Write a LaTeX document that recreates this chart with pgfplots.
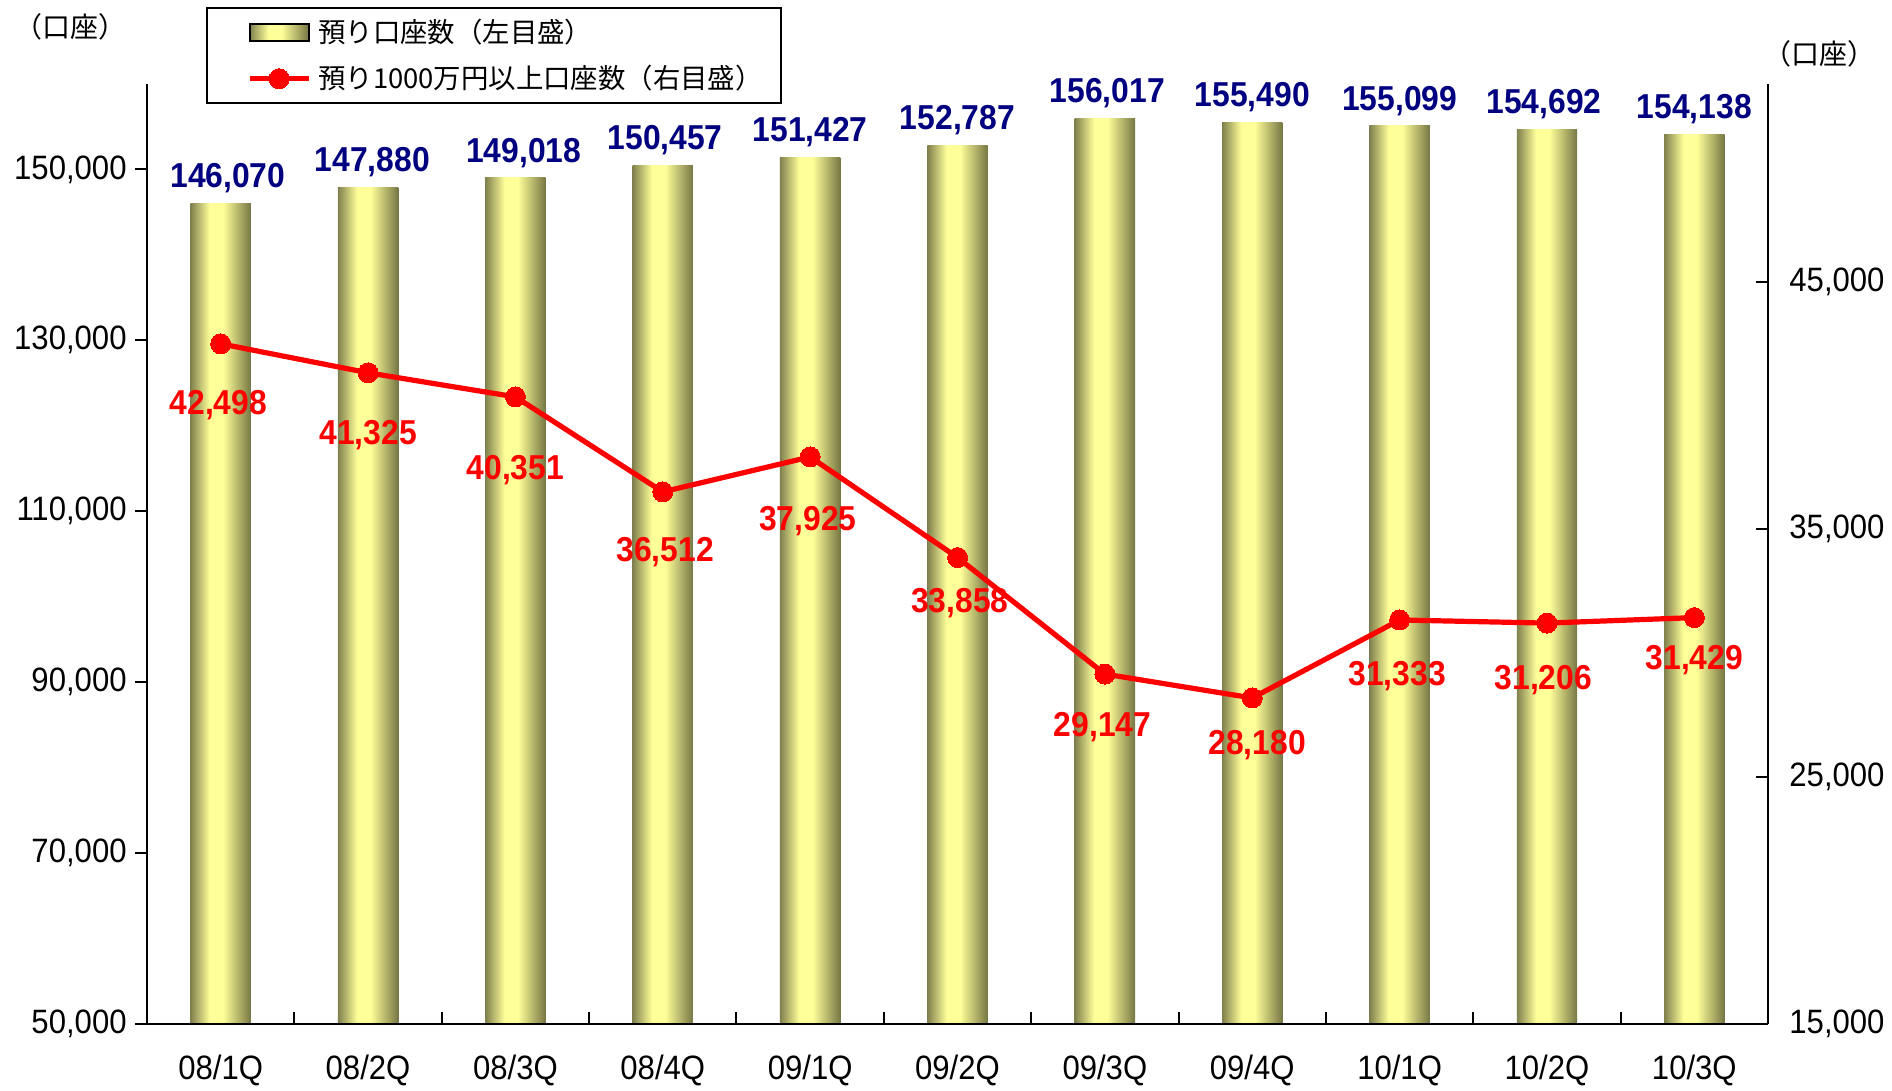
\documentclass[border=0pt]{standalone}
\usepackage{fontspec}
\setmainfont[FakeStretch=0.92]{Liberation Sans}
\newfontfamily\cjk{Noto Sans CJK JP}
\newfontfamily\cjkh[RawFeature=+halt]{Noto Sans CJK JP}
\usepackage{pgfplots}
\pgfplotsset{compat=1.18}
\usepackage{pgfplotstable}
\definecolor{barEdge}{RGB}{128,128,78}
\definecolor{barEdgeR}{RGB}{118,118,68}
\definecolor{barMid}{RGB}{255,255,153}
\definecolor{navyLbl}{RGB}{0,0,128}
\pgfdeclarehorizontalshading{barshade}{100bp}{color(0bp)=(barEdge); color(25bp)=(barEdge); color(41bp)=(barMid); color(52bp)=(barMid); color(75bp)=(barEdgeR); color(100bp)=(barEdgeR)}
\pgfkeys{/pgf/number format/.cd, fixed, precision=0, 1000 sep={,}, assume math mode=true}
\pgfplotsset{
  lineleg/.style={legend image code/.code={\path (-11bp,0bp); \draw[mark repeat=2, mark phase=2, ##1] plot coordinates {(0bp,0bp) (14.75bp,0bp) (29.5bp,0bp)};}},
  barleg/.style={legend image code/.code={\path (-11bp,0bp); \path[shading=barshade] (0bp,-4.25bp) rectangle (29.5bp,4.25bp);}},
  barsty/.style={ybar, bar width=0.41, bar shift=0pt, draw=none, shading=barshade}
}

\pgfplotstableread{
x y xo
0 146070 3.6
1 147880 2.1
2 149018 4.2
3 150457 1.2
4 151427 0
5 152787 0
6 156017 1.2
7 155490 0
8 155099 0
9 154692 -1.5
10 154138 0
}\bardata

\pgfplotstableread{
x y off xo
0 42498 35.2 -1.2
1 41325 35.8 0
2 40351 41.2 0
3 36512 34.6 1.2
4 37925 37.0 -1.2
5 33858 27.3 1.2
6 29147 31.0 -1.2
7 28180 28.5 2.4
8 31333 32.8 -1.2
9 31206 33.3 -1.8
10 31429 26.1 0
}\rightdata

\begin{document}
\begin{tikzpicture}
\useasboundingbox (0,0) rectangle (946bp,545.5bp);
\begin{axis}[
  at={(73.5bp,33.5bp)}, anchor=south west,
  scale only axis, width=810.5bp, height=470bp,
  xmin=-0.5, xmax=10.5, ymin=50000, ymax=160000,
  axis x line*=bottom, axis y line*=left,
  axis line style={line width=1bp, black},
  xtick={0,...,10},
  xticklabels={08/1Q,08/2Q,08/3Q,08/4Q,09/1Q,09/2Q,09/3Q,09/4Q,10/1Q,10/2Q,10/3Q},
  xtick style={draw=none},
  ytick={50000,70000,90000,110000,130000,150000},
  tick align=outside, major tick length=6bp,
  ytick style={line width=1bp, black},
  scaled y ticks=false,
  tick label style={font=\fontsize{16.9bp}{20bp}\selectfont},
  xticklabel style={anchor=north, inner sep=0pt, yshift=-9.3bp},
  yticklabel style={anchor=east, inner sep=0pt, xshift=-4bp},
  clip mode=individual,
]
\addplot[barsty] coordinates {(0,146070)};
\addplot[barsty] coordinates {(1,147880)};
\addplot[barsty] coordinates {(2,149018)};
\addplot[barsty] coordinates {(3,150457)};
\addplot[barsty] coordinates {(4,151427)};
\addplot[barsty] coordinates {(5,152787)};
\addplot[barsty] coordinates {(6,156017)};
\addplot[barsty] coordinates {(7,155490)};
\addplot[barsty] coordinates {(8,155099)};
\addplot[barsty] coordinates {(9,154692)};
\addplot[barsty] coordinates {(10,154138)};
\addplot[draw=none, nodes near coords,
  visualization depends on={\thisrow{xo} \as \mybxo},
  nodes near coords style={font=\bfseries\fontsize{17.3bp}{20bp}\selectfont, text=navyLbl, anchor=base, yshift=7.9bp, xshift=\mybxo*1bp, inner sep=0pt}]
  table[x=x,y=y]{\bardata};
\end{axis}
\begin{axis}[
  at={(73.5bp,33.5bp)}, anchor=south west,
  scale only axis, width=810.5bp, height=470bp,
  xmin=-0.5, xmax=10.5, ymin=15000, ymax=53000,
  axis x line*=bottom, axis y line*=right,
  axis line style={line width=1bp, black},
  xtick={0.5,1.5,...,9.5}, xticklabels={},
  ytick={15000,25000,35000,45000},
  tick align=inside, major tick length=6bp,
  tick style={line width=1bp, black},
  scaled y ticks=false,
  tick label style={font=\fontsize{16.9bp}{20bp}\selectfont},
  yticklabel style={anchor=west, inner sep=0pt, xshift=10.5bp},
  clip=false,
  legend cell align=left,
  legend style={at={(0.0364,1.0819)}, anchor=north west, draw=black, line width=1bp,
    font=\cjk\fontsize{13.7bp}{16bp}\selectfont,
    inner xsep=9bp, inner ysep=5.5bp, row sep=10bp, column sep=3.5bp,
    nodes={inner sep=0pt}},
]
\addlegendimage{barleg}
\addlegendentry{預り口座数（左目盛）}
\addplot[red, line width=2.6bp, mark=*, mark size=5bp, mark options={fill=red, draw=red, line width=0pt},
  lineleg,
  visualization depends on={\thisrow{off} \as \myoff},
  visualization depends on={\thisrow{xo} \as \myxo},
  nodes near coords,
  nodes near coords style={font=\bfseries\fontsize{17.3bp}{20bp}\selectfont, text=red, anchor=base, inner sep=0pt, yshift=-\myoff*1bp, xshift=\myxo*1bp}]
  table[x=x,y=y]{\rightdata};
\addlegendentry{預り1000万円以上口座数（右目盛）}
\end{axis}
\node[font=\cjkh\fontsize{14bp}{16bp}\selectfont] at (35bp,532bp) {（口座）};
\node[font=\cjkh\fontsize{14bp}{16bp}\selectfont] at (909.5bp,518.4bp) {（口座）};
\end{tikzpicture}
\end{document}
